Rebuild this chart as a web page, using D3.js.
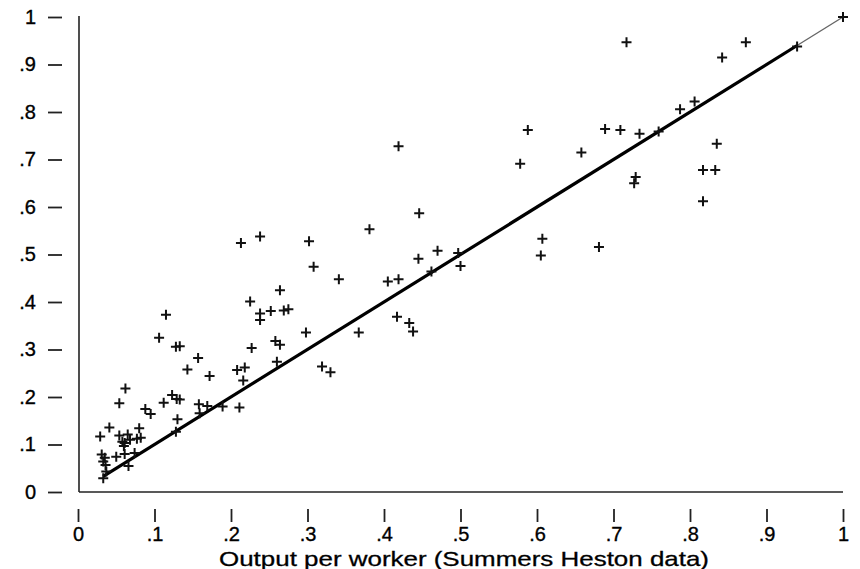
<!DOCTYPE html>
<html>
<head>
<meta charset="utf-8">
<script src="https://cdn.jsdelivr.net/npm/d3@7"></script>
<style>
  body { margin: 0; background: #fff; }
  svg { display: block; font-family: Arial, "Liberation Sans", sans-serif; }
</style>
</head>
<body>
<svg id="chart" width="860" height="569"></svg>
<script>
// Scatter of output per worker: x = Summers Heston, y = other measure
const pointsX = [
  0.029, 0.041, 0.054, 0.065, 0.080, 0.082, 0.058, 0.061, 0.068, 0.077,
  0.060, 0.031, 0.035, 0.033, 0.036, 0.050, 0.061, 0.074, 0.066, 0.037,
  0.033, 0.054, 0.062, 0.088, 0.095, 0.112, 0.106, 0.115, 0.128, 0.133,
  0.123, 0.129, 0.133, 0.130, 0.128, 0.157, 0.143, 0.172, 0.158, 0.169,
  0.159, 0.189, 0.211, 0.208, 0.218, 0.216, 0.225, 0.238, 0.252, 0.238,
  0.227, 0.258, 0.264, 0.260, 0.213, 0.238, 0.264, 0.269, 0.275, 0.298,
  0.302, 0.308, 0.341, 0.381, 0.367, 0.319, 0.330, 0.405, 0.419, 0.419,
  0.417, 0.433, 0.438, 0.446, 0.445, 0.462, 0.470, 0.497, 0.500, 0.578,
  0.588, 0.607, 0.605, 0.658, 0.681, 0.689, 0.709, 0.717, 0.727, 0.729,
  0.734, 0.759, 0.787, 0.806, 0.817, 0.833, 0.817, 0.835, 0.842, 0.873,
  0.940, 1.000
];
const pointsY = [
  0.117, 0.136, 0.119, 0.121, 0.134, 0.114, 0.106, 0.103, 0.110, 0.112,
  0.097, 0.079, 0.072, 0.064, 0.057, 0.074, 0.080, 0.082, 0.055, 0.043,
  0.029, 0.187, 0.218, 0.175, 0.164, 0.188, 0.325, 0.373, 0.306, 0.307,
  0.204, 0.196, 0.195, 0.153, 0.127, 0.282, 0.258, 0.244, 0.185, 0.181,
  0.166, 0.180, 0.178, 0.257, 0.262, 0.235, 0.401, 0.376, 0.381, 0.362,
  0.303, 0.318, 0.310, 0.274, 0.524, 0.538, 0.425, 0.382, 0.385, 0.336,
  0.528, 0.474, 0.448, 0.553, 0.336, 0.264, 0.252, 0.443, 0.448, 0.728,
  0.369, 0.356, 0.338, 0.587, 0.491, 0.464, 0.508, 0.503, 0.476, 0.691,
  0.762, 0.533, 0.498, 0.715, 0.516, 0.764, 0.762, 0.947, 0.650, 0.663,
  0.754, 0.759, 0.806, 0.822, 0.678, 0.678, 0.612, 0.733, 0.915, 0.947,
  0.938, 1.000
];

// 45 degree reference line (thick part, then thin tail)
const lineThick = [[0.033, 0.033], [0.94, 0.94]];
const lineThin  = [[0.94, 0.94], [1.0, 1.0]];

const ticks      = [0, 0.1, 0.2, 0.3, 0.4, 0.5, 0.6, 0.7, 0.8, 0.9, 1];
const tickLabels = ["0", ".1", ".2", ".3", ".4", ".5", ".6", ".7", ".8", ".9", "1"];
const xTitle     = "Output per worker (Summers Heston data)";

const svg = d3.select("#chart");

const x = d3.scaleLinear().domain([0, 1]).range([78, 843]);
const y = d3.scaleLinear().domain([0, 1]).range([492, 17]);

// axis lines
svg.append("line")
    .attr("x1", 79).attr("x2", 79)
    .attr("y1", y(1) - 1).attr("y2", y(0))
    .attr("stroke", "#222").attr("stroke-width", 1.6);
svg.append("line")
    .attr("x1", 79).attr("x2", x(1))
    .attr("y1", y(0)).attr("y2", y(0))
    .attr("stroke", "#222").attr("stroke-width", 1.6);

// y axis, ticks set off from the axis line
const yAxis = svg.append("g")
    .attr("transform", "translate(62,0)")
    .call(d3.axisLeft(y).tickValues(ticks).tickSize(14).tickPadding(12)
      .tickFormat((d, i) => tickLabels[i]));
yAxis.select(".domain").remove();

// x axis
const xAxis = svg.append("g")
    .attr("transform", `translate(0,509)`)
    .call(d3.axisBottom(x).tickValues(ticks).tickSize(13).tickPadding(5)
      .tickFormat((d, i) => tickLabels[i]));
xAxis.select(".domain").remove();

svg.selectAll(".tick line").attr("stroke", "#222").attr("stroke-width", 1.8);
svg.selectAll(".tick text")
    .attr("fill", "#000")
    .attr("stroke", "#000")
    .attr("stroke-width", 0.35)
    .style("font-size", "20px")
    .style("font-family", "Arial, 'Liberation Sans', sans-serif");

svg.append("text")
    .attr("x", 464)
    .attr("y", 566)
    .attr("text-anchor", "middle")
    .attr("textLength", 490)
    .attr("lengthAdjust", "spacingAndGlyphs")
    .style("font-size", "21px")
    .attr("fill", "#000")
    .attr("stroke", "#000")
    .attr("stroke-width", 0.3)
    .text(xTitle);

// fitted line
const line = d3.line().x(d => x(d[0])).y(d => y(d[1]));
svg.append("path")
    .attr("d", line(lineThin))
    .attr("fill", "none")
    .attr("stroke", "#666")
    .attr("stroke-width", 1.4);
svg.append("path")
    .attr("d", line(lineThick))
    .attr("fill", "none")
    .attr("stroke", "#000")
    .attr("stroke-width", 3.2);

// plus markers
const pts = pointsX.map((v, i) => [v, pointsY[i]]);
const h = 5;
svg.append("g")
    .attr("stroke", "#111")
    .attr("stroke-width", 2)
  .selectAll("path")
  .data(pts)
  .join("path")
    .attr("d", d => {
      const cx = x(d[0]), cy = y(d[1]);
      return `M${cx - h},${cy}H${cx + h}M${cx},${cy - h}V${cy + h}`;
    });
</script>
</body>
</html>
